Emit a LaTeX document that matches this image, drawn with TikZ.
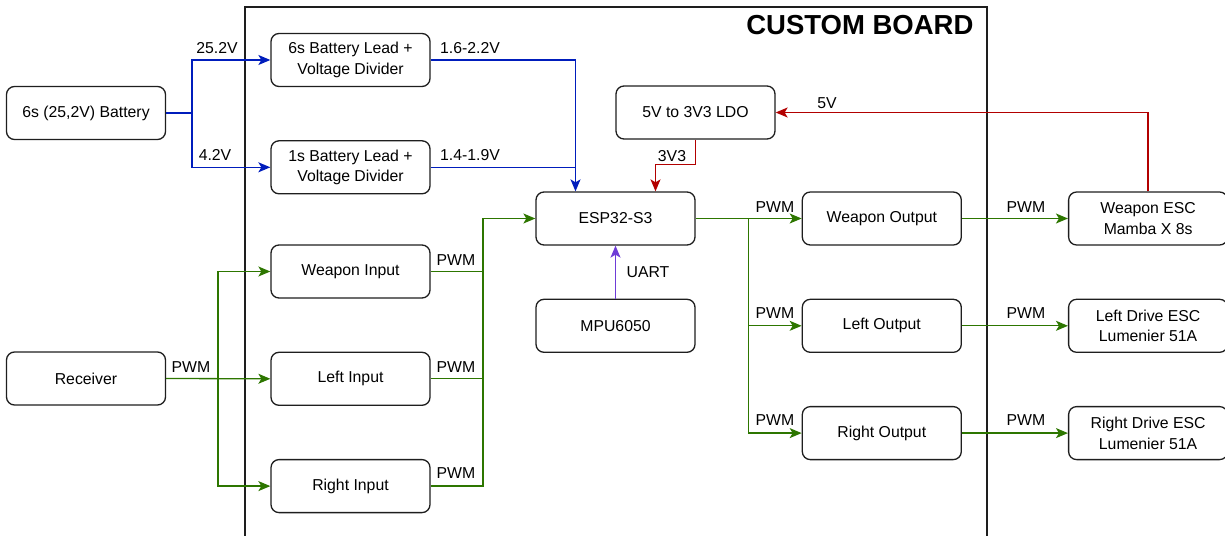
\documentclass[tikz,border=0pt]{standalone}
\usepackage{fontspec}
\setmainfont{Liberation Sans}
\usepackage{tikz}
\usetikzlibrary{arrows.meta, positioning, calc}
\definecolor{PwrBlue}{RGB}{0,29,188}
\definecolor{SigGreen}{RGB}{45,118,0}
\definecolor{RailRed}{RGB}{178,0,0}
\definecolor{BusPurple}{RGB}{110,60,215}
\definecolor{EdgeGray}{RGB}{30,30,30}

\begin{document}
\begin{tikzpicture}[
  x=1pt, y=-1pt,
  box/.style={draw=EdgeGray, rounded corners=8pt, minimum width=159pt, minimum height=53pt,
              line width=1.3pt, fill=white, align=center, font=\fontsize{15.8}{20.5}\selectfont},
  lbl/.style={font=\fontsize{15.8}{18}\selectfont, inner sep=0pt, anchor=base},
  arr/.style={-{Stealth[length=12pt, width=10pt, inset=3pt]}, line width=1.3pt},
  pwr/.style={arr, draw=PwrBlue},
  rail/.style={arr, draw=RailRed},
  sig/.style={arr, draw=SigGreen},
  wire/.style={line width=1.3pt, draw=SigGreen},
  bus/.style={arr, draw=BusPurple},
  node distance=53pt and 106pt,
]
\useasboundingbox (0,0) rectangle (1225,535);
%% Custom board frame
\draw[draw=EdgeGray, line width=1.3pt] (245,540) -- (245,7) -- (987,7) -- (987,540);
\node[font=\bfseries\fontsize{27.5}{32}\selectfont, anchor=east] (title) at (977,25) {CUSTOM BOARD};
%% Power side
\node[box] (batt) at (86,113) {6s (25,2V) Battery};
\node[box] (lead6) at (350.5,60) {6s Battery Lead +\\Voltage Divider};
\node[box, below=of lead6] (lead1) {1s Battery Lead +\\Voltage Divider};
\node[box] (ldo) at (695.5,112.5) {5V to 3V3 LDO};
%% MCU
\node[box] (esp) at (615.5,218.5) {ESP32-S3};
\node[box, below=of esp] (mpu) {MPU6050};
%% Inputs
\node[box] (rx) at (86,378.5) {Receiver};
\node[box] (win) at (350.5,271.5) {Weapon Input};
\node[box, below=of win] (lin) {Left Input};
\node[box, below=of lin] (rin) {Right Input};
%% Outputs
\node[box, right=of esp] (wout) {Weapon Output};
\node[box, below=of wout] (lout) {Left Output};
\node[box, below=of lout] (rout) {Right Output};
\node[box, right=of wout] (wesc) {Weapon ESC\\Mamba X 8s};
\node[box, right=of lout] (lesc) {Left Drive ESC\\Lumenier 51A};
\node[box, right=of rout] (resc) {Right Drive ESC\\Lumenier 51A};
%% Junctions
\coordinate (bsplit) at (192,113);
\coordinate (espin) at ([xshift=-40pt]esp.north);
\coordinate (esp3v) at ([xshift=40pt]esp.north);
\coordinate (rxsplit) at (218,378.5);
\coordinate (inbus) at (483,218.5);
\coordinate (outbus) at (748.5,218.5);
%% Battery sensing
\draw[pwr] (batt.east) -- (bsplit) |- (lead6.west);
\draw[pwr] (bsplit) |- (lead1.west);
\draw[pwr] (lead6.east) -| (espin);
\draw[line width=1.3pt, draw=PwrBlue] (lead1.east) -- (espin |- lead1.east);
\node[lbl] (v252) at (217,54) {25.2V};
\node[lbl] (v42) at (215,160.5) {4.2V};
\node[lbl] (v6s) at (470,54) {1.6-2.2V};
\node[lbl] (v1s) at (470,160.5) {1.4-1.9V};
%% Logic supply
\draw[rail] (wesc.north) |- (ldo.east);
\draw[rail] (ldo.south) |- ([yshift=27pt]esp3v) -- (esp3v);
\node[lbl] (v5) at (827,108) {5V};
\node[lbl] (v33) at (672,161) {3V3};
%% IMU
\draw[bus] (mpu.north) -- (esp.south);
\node[lbl] (uart) at (648,277) {UART};
%% Receiver to inputs
\draw[sig] (rx.east) -- (lin.west);
\draw[sig] (rxsplit) |- (win.west);
\draw[sig] (rxsplit) |- (rin.west);
\node[lbl] (prx) at (191,372) {PWM};
%% Inputs to MCU
\draw[wire] (win.east) -- (win.east -| inbus);
\draw[wire] (lin.east) -- (lin.east -| inbus);
\draw[sig] (rin.east) -| (inbus) -- (esp.west);
\node[lbl] (pwin) at (456,265.5) {PWM};
\node[lbl] (plin) at (456,372) {PWM};
\node[lbl] (prin) at (456,478.5) {PWM};
%% MCU to outputs
\draw[sig] (esp.east) -- (wout.west);
\draw[sig] (outbus) |- (lout.west);
\draw[sig] (outbus) |- (rout.west);
\node[lbl] (pwout) at (775,212) {PWM};
\node[lbl] (plout) at (775,318.5) {PWM};
\node[lbl] (prout) at (775,425) {PWM};
%% Outputs to ESCs
\draw[sig] (wout.east) -- (wesc.west);
\draw[sig] (lout.east) -- (lesc.west);
\draw[sig] (rout.east) -- (resc.west);
\node[lbl] (pwesc) at (1026,212) {PWM};
\node[lbl] (plesc) at (1026,318.5) {PWM};
\node[lbl] (presc) at (1026,425) {PWM};
\end{tikzpicture}
\end{document}
